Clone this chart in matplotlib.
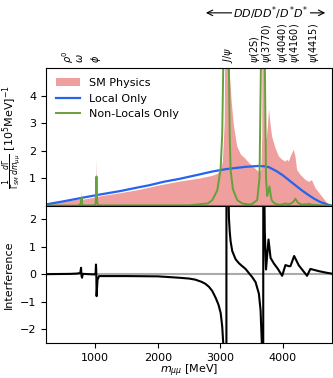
import numpy as np
import matplotlib
matplotlib.use('Agg')
import matplotlib.pyplot as plt

# dimuon mass [MeV] / values
local_m = [211, 230, 300, 500, 800, 1064, 1400, 1702, 1861, 2100, 2340, 2659, 2871, 3100,
           3403, 3600, 3700, 3775, 3900, 4000, 4100, 4200, 4300, 4400, 4500, 4600, 4700, 4780]
local_y = [0.0, 0.05, 0.08, 0.16, 0.29, 0.40, 0.53, 0.67, 0.74, 0.87, 0.97, 1.13, 1.24, 1.33,
           1.41, 1.44, 1.43, 1.40, 1.25, 1.10, 0.92, 0.74, 0.56, 0.40, 0.25, 0.13, 0.05, 0.0]

sm_m = [211, 230, 300, 500, 700, 760, 772, 778, 784, 795, 990, 1008, 1016, 1022, 1030, 1064,
        1400, 1702, 2000, 2340, 2659, 2871, 2950, 3000, 3040, 3070, 3085, 3097, 3110, 3130,
        3180, 3217, 3270, 3330, 3403, 3460, 3520, 3580, 3630, 3655, 3670, 3686, 3700, 3715,
        3740, 3760, 3778, 3800, 3828, 3882, 3935, 3988, 4041, 4067, 4094, 4137, 4174, 4201,
        4227, 4281, 4360, 4420, 4440, 4466, 4520, 4626, 4732, 4780]
sm_y = [0.0, 0.03, 0.06, 0.14, 0.21, 0.23, 0.3, 0.55, 0.2, 0.21, 0.29, 0.4, 1.7, 0.45, 0.3, 0.33,
        0.45, 0.57, 0.72, 0.87, 0.98, 1.08, 1.15, 1.25, 1.6, 3.0, 8.0, 30.0, 12.0, 5.5,
        3.8, 2.9, 2.15, 1.85, 1.7, 1.55, 1.42, 1.3, 1.2, 1.3, 2.5, 40.0, 6.0, 2.6,
        2.4, 2.9, 3.5, 3.0, 2.5, 2.09, 1.79, 1.67, 1.6, 1.67, 1.6, 1.85, 2.03, 1.79,
        1.3, 1.12, 0.94, 0.86, 0.9, 0.92, 0.64, 0.33, 0.03, 0.0]

nonlocal_m = [211, 700, 750, 770, 780, 790, 810, 990, 1005, 1012, 1019, 1026, 1033, 1060,
              2500, 2800, 2871, 2950, 3003, 3030, 3046, 3070, 3092, 3120, 3137, 3150, 3164,
              3200, 3270, 3350, 3450, 3500, 3589, 3626, 3648, 3670, 3686, 3700, 3712, 3730,
              3749, 3765, 3786, 3800, 3820, 3855, 3900, 3950, 4000, 4040, 4080, 4120, 4160,
              4201, 4240, 4300, 4400, 4420, 4450, 4600, 4780]
nonlocal_y = [0.0, 0.0, 0.02, 0.1, 0.28, 0.05, 0.01, 0.01, 0.08, 0.4, 1.06, 0.4, 0.08, 0.01,
              0.01, 0.08, 0.2, 0.55, 1.3, 2.6, 5.0, 15.0, 50.0, 12.0, 5.0, 2.5, 1.3,
              0.6, 0.2, 0.08, 0.04, 0.05, 0.2, 1.0, 5.0, 20.0, 60.0, 20.0, 5.0, 1.0,
              0.35, 0.5, 0.7, 0.45, 0.2, 0.1, 0.05, 0.03, 0.05, 0.08, 0.05, 0.07, 0.12,
              0.25, 0.1, 0.04, 0.05, 0.07, 0.04, 0.01, 0.0]

interf_m = [211, 600, 700, 760, 772, 780, 788, 800, 990, 1005, 1011, 1016, 1021, 1035, 1060,
            1500, 2000, 2340, 2500, 2600, 2700, 2760, 2818, 2870, 2925, 2970, 3005, 3030,
            3046, 3070, 3094, 3100, 3115, 3137, 3150, 3164, 3190, 3244, 3300, 3350, 3403,
            3456, 3510, 3563, 3616, 3643, 3665, 3683, 3689, 3700, 3710, 3730, 3770, 3803,
            3855, 3920, 3988, 4041, 4094, 4121, 4180, 4254, 4386, 4440, 4573, 4700, 4780]
interf_y = [0.01, 0.02, 0.03, 0.05, 0.24, -0.05, -0.12, 0.02, 0.0, 0.05, 0.36, 0.1, -0.79, -0.2,
            -0.06, -0.06, -0.07, -0.12, -0.15, -0.19, -0.27, -0.34, -0.45, -0.6, -0.85, -1.1,
            -1.4, -1.9, -2.5, -5.0, -30.0, 30.0, 5.0, 2.05, 1.55, 1.2, 0.85, 0.55, 0.4, 0.3,
            0.2, 0.05, -0.1, -0.28, -0.7, -1.3, -2.6, -30.0, 30.0, 4.0, 1.6, 0.18, 1.27, 0.6,
            0.4, 0.2, -0.05, 0.34, 0.3, 0.3, 0.67, 0.33, -0.05, 0.2, 0.12, 0.06, 0.03]

# resonance names above the panel; close pairs share one two-line label
res_labels = ['$\\rho^0$\n$\\omega$', r'$\phi$', r'$J/\psi$', '$\\psi$(2S)\n$\\psi$(3770)',
              '$\\psi$(4040)\n$\\psi$(4160)', r'$\psi$(4415)']
res_pos = [640, 1016, 3126, 3655, 4095, 4493]

fig, (ax, ax2) = plt.subplots(2, 1, sharex=True, figsize=(3.33, 3.78), dpi=100)
fig.subplots_adjust(left=0.138, right=0.996, bottom=0.092, top=0.82, hspace=0)

ax.fill_between(sm_m, 0, sm_y, color='#ef9f9d', lw=0, label='SM Physics')
ax.plot(local_m, local_y, color='#2464f0', lw=1.6, label='Local Only')
ax.plot(nonlocal_m, nonlocal_y, color='#66a03c', lw=1.4, label='Non-Locals Only')
ax.axhline(0, color='#777777', lw=1.5)
ax.set_ylim(0, 5)
ax.set_xlim(211, 4780)
ax.set_yticks([1, 2, 3, 4])
ax.tick_params(labelsize=8, labelbottom=False)
ax.set_ylabel(r'$\frac{1}{\Gamma_{SM}}\frac{d\Gamma}{dm_{\mu\mu}}$ [$10^5$MeV]$^{-1}$', fontsize=8)
ax.legend(loc='upper left', frameon=False, fontsize=8, handlelength=2.2)

for lab, xp in zip(res_labels, res_pos):
    ax.text(xp, 1.036, lab, transform=ax.get_xaxis_transform(), rotation=90,
            ha='center', va='bottom', multialignment='left', linespacing=0.8,
            fontsize=7)

ax.annotate('', xy=(0.985, 0.966), xytext=(0.61, 0.966), xycoords='figure fraction',
            textcoords='figure fraction', annotation_clip=False,
            arrowprops=dict(arrowstyle='<->', lw=0.8, color='black'))
fig.text(0.814, 0.966, r'$DD/DD^{*}/D^{*}D^{*}$', ha='center', va='center', fontsize=8,
         bbox=dict(fc='white', ec='none', pad=1))

ax2.axhline(0, color='#aaaaaa', lw=1.5)
ax2.plot(interf_m, interf_y, color='black', lw=1.5)
ax2.set_ylim(-2.5, 2.5)
ax2.set_yticks([-2, -1, 0, 1, 2])
ax2.set_xticks([1000, 2000, 3000, 4000])
ax2.tick_params(labelsize=8)
ax2.set_ylabel('Interference', fontsize=8)
ax2.set_xlabel(r'$m_{\mu\mu}$ [MeV]', fontsize=8, labelpad=0)

fig.savefig('out.png', dpi=100)
